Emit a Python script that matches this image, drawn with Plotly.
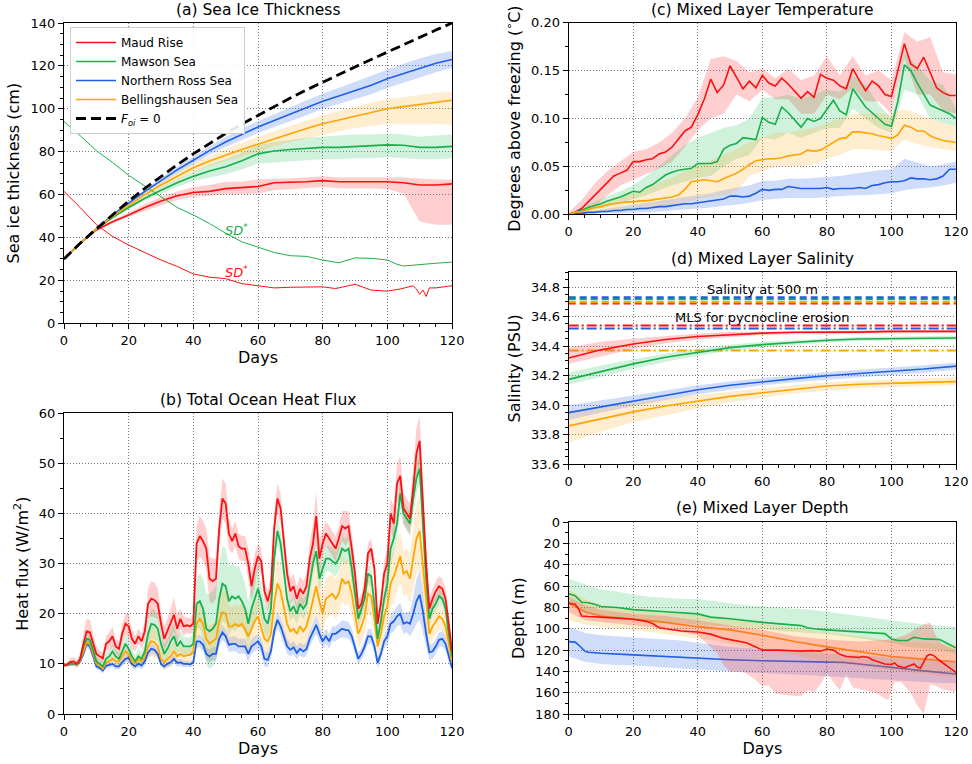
import numpy as np
import plotly.graph_objects as go

# ---------------- colours ----------------
RED, GREEN, BLUE, ORANGE = "#ff1010", "#19b04a", "#1f5fe6", "#ffa500"
FILL = {RED: "rgba(255,60,60,0.25)", GREEN: "rgba(40,190,90,0.22)",
        BLUE: "rgba(40,100,230,0.22)", ORANGE: "rgba(255,175,40,0.22)"}
NAMES = ["Maud Rise", "Mawson Sea", "Northern Ross Sea", "Bellingshausen Sea"]

# ---------------- (a) sea ice thickness (cm) ----------------
days_a = list(range(0, 121, 5))
foi0_a = [30, 37.3, 44, 50.7, 57, 62.9, 68.5, 73.9, 79, 83.9, 88.5, 92.9, 97, 101, 105,
          108.8, 112.5, 116, 119.5, 123, 126.5, 130, 133.3, 136.7, 140]
maud_a = [30, 37.2, 43.5, 47.3, 50.5, 54, 57, 59.5, 61, 61.5, 62.8, 63.2, 63.8, 65.5, 65.6,
          66, 66.5, 66, 66, 66, 66, 65.5, 64.5, 64.5, 65]
maud_a_hi = [30.2, 37.5, 44, 48, 51.5, 55.5, 59, 61.5, 63.5, 64.5, 66, 66, 67, 67.5, 67.5,
             68, 68.5, 68, 68, 68, 68, 68, 67.5, 67, 67]
maud_a_lo = [29.8, 36.9, 43, 46.6, 49.5, 52.5, 55, 57.5, 59, 59.5, 60, 60.3, 60.5, 62, 62.5,
             63, 63.5, 63, 63, 63, 62.5, 60.5, 47.5, 46, 46]
mawson_a = [30, 37.3, 44, 49.3, 54, 58.3, 62, 65.5, 68.5, 71, 73, 75.8, 79, 80.3, 81,
            81.5, 82, 82, 82.3, 82.8, 83.2, 83, 82, 82, 82.5]
mawson_a_hi = [30.2, 37.5, 44.3, 49.8, 54.8, 59.3, 63.5, 67.3, 70.7, 74, 76.5, 79.7, 83, 84.5,
               85.5, 86.5, 87, 87.5, 88, 88, 88.5, 88, 87, 87.5, 88]
mawson_a_lo = [29.8, 37.1, 43.7, 48.8, 53.2, 57.3, 60.5, 63.5, 66.2, 68, 69.5, 71.8, 74.5, 75,
               75.5, 76, 76.5, 76.5, 77, 77, 77.5, 77, 76.5, 76.5, 77]
ross_a = [30, 37.3, 44, 50.5, 56, 61.5, 66.5, 71.5, 76, 80.5, 84.5, 88, 91.5, 94.5, 97.5,
          100.5, 103.5, 106, 108.5, 111, 114, 116.5, 119, 121.2, 123]
ross_a_hi = [30.2, 37.6, 44.4, 51, 56.8, 62.5, 67.8, 73, 77.8, 82.5, 86.8, 90.5, 94.3, 97.5,
             100.8, 104, 107, 109.8, 112.5, 115.2, 118.3, 121, 123.5, 125.5, 127]
ross_a_lo = [29.8, 37, 43.6, 50, 55.2, 60.5, 65.2, 70, 74.2, 78.5, 82.2, 85.5, 88.7, 91.5,
             94.2, 97, 100, 102.2, 104.5, 106.8, 109.7, 112, 114.5, 117, 119]
bell_a = [30, 37.3, 44, 50, 55, 60, 64.5, 68.7, 72.5, 75.7, 78.5, 81, 83.5, 86, 88.5,
          90.8, 93, 94.8, 96.5, 98.2, 100, 101, 102, 103, 104]
bell_a_hi = [30.2, 37.6, 44.4, 50.6, 55.8, 61, 65.8, 70.3, 74.5, 78, 81.3, 84, 87, 89.5, 92,
             94.5, 97, 99, 101, 102.8, 104.5, 105.5, 106.5, 107.5, 108]
bell_a_lo = [29.8, 37, 43.6, 49.4, 54.2, 59, 63.2, 67, 70.5, 73.3, 75.7, 77.8, 80, 82.5, 84.5,
             86.2, 88, 89.5, 91, 92, 93, 93, 93, 93, 92.5]
# snow depth SD* curves
sd_mawson_days = [0, 5, 10, 15, 20, 25, 30, 35, 40, 45, 50, 55, 60, 65, 70, 75, 80, 85, 90,
                  95, 100, 103, 105, 110, 115, 120]
sd_mawson = [94, 87.5, 80.5, 75, 69, 64, 59, 54, 50.5, 46.5, 42, 38, 35.5, 33, 31.5, 31.2,
             29.5, 28.2, 30.5, 30.3, 29.5, 27.5, 26.7, 27.5, 28, 28.5]
sd_maud_days = [0, 5, 10, 15, 20, 25, 30, 35, 40, 45, 50, 55, 60, 65, 70, 75, 80, 84, 86, 88,
                90, 95, 100, 104, 108, 109, 110, 111, 112, 113, 115, 120]
sd_maud = [61.5, 54, 46, 40.5, 36.5, 33, 29.5, 26.5, 23, 21.5, 20.8, 18.5, 17.6, 16.5, 16.8,
           17, 17, 16.2, 17, 17.5, 18.2, 15.5, 15, 16, 17.5, 16, 13.5, 15.5, 12.5, 16.5, 16.5, 17.5]

# ---------------- (b) total ocean heat flux (W/m2), daily ----------------
days_b = list(range(0, 121))
maud_b = [9.7, 9.9, 10.4, 10.5, 10.0, 11.0, 14.0, 16.5, 16.3, 14.0,
          12.0, 11.5, 11.1, 14.0, 14.5, 15.5, 13.5, 13.0, 16.0, 18.0,
          17.5, 15.0, 14.0, 15.5, 14.5, 16.5, 22.0, 23.0, 22.7, 22.0,
          18.0, 15.0, 16.5, 18.0, 19.8, 17.0, 19.0, 17.5, 17.7, 17.5,
          18.0, 34.0, 35.5, 34.5, 33.0, 27.0, 26.5, 27.0, 37.0, 43.0,
          42.0, 36.0, 34.5, 36.0, 33.5, 33.0, 33.0, 30.0, 25.5, 29.0,
          31.5, 30.5, 24.5, 22.5, 25.0, 37.0, 43.0, 41.0, 34.0, 28.0,
          24.5, 25.5, 23.0, 25.0, 24.0, 25.5, 31.0, 34.0, 39.5, 31.0,
          34.0, 36.0, 35.0, 34.0, 33.0, 35.0, 37.5, 37.0, 37.5, 33.0,
          28.0, 21.0, 22.0, 25.0, 32.0, 33.0, 29.0, 18.0, 22.0, 28.0,
          30.0, 40.0, 38.0, 46.0, 47.5, 41.0, 40.0, 39.0, 45.0, 52.0,
          54.5, 42.0, 30.0, 21.0, 23.0, 24.5, 25.5, 25.0, 23.0, 18.0, 12.5]
maud_b_sd = [0.4, 0.5, 0.7, 0.8, 0.8, 1.0, 2.0, 2.5, 2.5, 2.0,
             1.5, 1.2, 1.0, 1.5, 1.8, 2.0, 1.5, 1.5, 1.8, 2.0,
             2.5, 2.0, 1.5, 1.5, 1.5, 2.0, 3.0, 3.5, 3.5, 3.0,
             2.5, 2.5, 2.5, 3.0, 3.5, 3.0, 2.0, 2.0, 1.5, 1.5,
             2.0, 3.5, 4.0, 4.0, 4.0, 4.5, 4.5, 4.0, 3.5, 4.0,
             4.0, 3.0, 2.5, 2.5, 2.5, 2.5, 2.5, 3.0, 3.0, 3.0,
             2.5, 2.5, 2.0, 2.0, 2.5, 3.0, 3.0, 3.0, 2.5, 2.5,
             2.5, 2.5, 2.5, 2.5, 2.5, 2.5, 3.0, 4.0, 5.0, 4.0,
             2.5, 2.5, 2.5, 2.5, 2.5, 2.5, 3.0, 3.5, 3.0, 3.0,
             2.5, 2.0, 2.0, 2.0, 2.0, 2.0, 2.0, 2.0, 2.0, 2.5,
             3.0, 3.0, 3.5, 4.0, 4.0, 3.0, 3.0, 3.0, 4.0, 5.0,
             5.0, 4.0, 3.0, 2.0, 2.0, 2.0, 2.0, 2.0, 2.0, 1.5, 1.0]
mawson_b = [9.7, 9.8, 10.2, 10.0, 10.0, 11.0, 13.5, 15.0, 14.8, 12.5,
            10.5, 10.0, 9.5, 11.0, 11.5, 12.5, 11.5, 11.0, 12.5, 14.0,
            13.0, 11.5, 10.5, 11.5, 11.0, 12.5, 16.0, 18.0, 17.8, 17.0,
            14.0, 12.0, 13.0, 14.5, 15.5, 13.5, 14.5, 13.5, 13.5, 13.5,
            14.0, 22.0, 22.5, 21.0, 17.0, 16.5, 17.0, 18.0, 23.0, 26.0,
            25.5, 22.5, 23.5, 23.0, 23.5, 22.5, 21.0, 18.0, 21.0, 23.0,
            25.0, 22.5, 19.0, 18.0, 21.0, 31.0, 36.5, 34.0, 29.0, 23.0,
            20.5, 21.5, 20.0, 22.0, 21.0, 22.0, 26.0, 30.0, 32.5, 27.0,
            29.0, 31.0, 31.0, 30.5, 30.0, 31.0, 33.0, 32.5, 33.0, 29.0,
            24.0, 19.0, 21.0, 23.0, 28.0, 27.5, 22.0, 15.0, 18.5, 23.0,
            26.0, 33.0, 35.0, 38.0, 44.0, 40.0, 39.0, 38.0, 43.0, 47.0,
            49.0, 38.0, 27.0, 19.0, 21.0, 22.0, 23.5, 23.0, 21.0, 16.0, 11.5]
mawson_b_sd = [0.3, 0.3, 0.4, 0.4, 0.5, 0.6, 1.0, 1.2, 1.2, 1.0,
               1.0, 1.0, 1.0, 1.2, 1.2, 1.5, 1.2, 1.2, 1.5, 2.0,
               2.0, 1.5, 1.2, 1.5, 1.5, 2.0, 3.0, 3.0, 3.0, 2.5,
               2.0, 2.0, 2.0, 2.5, 2.5, 2.0, 2.0, 1.8, 1.8, 1.8,
               2.0, 5.0, 5.5, 6.0, 7.0, 7.5, 7.5, 7.5, 7.0, 7.5,
               7.5, 7.0, 6.5, 6.5, 6.0, 5.5, 5.0, 4.5, 4.5, 4.5,
               4.5, 3.5, 3.0, 3.0, 3.0, 3.0, 2.5, 2.5, 2.5, 2.0,
               2.0, 2.0, 2.0, 2.0, 2.0, 2.0, 2.5, 2.5, 2.5, 2.5,
               2.5, 2.5, 2.5, 2.5, 2.5, 2.5, 2.5, 2.5, 2.5, 2.5,
               2.0, 1.8, 1.8, 2.0, 2.0, 2.0, 2.0, 1.5, 1.5, 2.0,
               2.5, 3.0, 3.0, 3.0, 3.0, 2.5, 2.5, 2.5, 3.0, 3.0,
               3.0, 3.0, 2.5, 1.5, 1.5, 1.5, 1.5, 1.5, 1.5, 1.5, 1.0]
ross_b = [9.7, 9.8, 10.0, 10.0, 9.9, 10.5, 12.0, 14.0, 13.5, 11.5,
          9.5, 9.2, 8.7, 9.6, 9.8, 10.0, 9.5, 9.5, 10.3, 11.0,
          11.2, 10.0, 9.5, 10.0, 9.7, 10.5, 12.3, 13.0, 12.8, 12.0,
          10.0, 9.5, 10.0, 10.3, 11.0, 10.2, 10.3, 10.0, 10.0, 9.9,
          10.3, 14.5, 14.5, 13.8, 12.0, 11.5, 12.0, 12.0, 15.0, 16.3,
          15.5, 13.8, 14.0, 14.0, 13.5, 13.5, 13.5, 12.0, 13.5, 14.0,
          14.5, 13.5, 11.0, 10.8, 12.5, 16.5, 18.8, 17.5, 15.5, 13.5,
          12.8, 13.3, 12.2, 13.0, 12.5, 13.0, 15.0, 16.5, 17.8, 16.0,
          14.5, 15.5, 14.5, 16.0, 16.0, 16.5, 17.0, 16.8, 16.7, 15.5,
          13.0, 11.0, 12.0, 13.5, 15.5, 15.5, 13.5, 10.2, 12.0, 14.5,
          15.5, 18.0, 18.5, 19.5, 20.0, 18.0, 18.3, 18.0, 20.0, 22.5,
          23.8, 20.5, 16.0, 12.3, 12.5, 13.5, 14.8, 15.0, 14.0, 11.5, 9.2]
ross_b_sd = [0.2, 0.2, 0.3, 0.3, 0.3, 0.4, 0.6, 0.8, 0.8, 0.6,
             0.5, 0.5, 0.5, 0.5, 0.6, 0.6, 0.6, 0.6, 0.7, 0.8,
             0.8, 0.7, 0.6, 0.7, 0.7, 0.8, 1.0, 1.0, 1.0, 0.8,
             0.6, 0.6, 0.7, 0.8, 0.8, 0.7, 0.7, 0.7, 0.6, 0.6,
             0.7, 1.2, 1.3, 1.3, 1.3, 1.3, 1.3, 1.3, 1.5, 1.5,
             1.5, 1.5, 1.5, 1.5, 1.5, 1.5, 1.5, 1.5, 1.5, 1.5,
             1.5, 1.5, 1.5, 1.5, 1.5, 1.5, 1.7, 1.7, 1.5, 1.5,
             1.3, 1.3, 1.3, 1.3, 1.3, 1.3, 1.5, 1.7, 1.8, 1.7,
             1.5, 1.5, 1.5, 1.5, 1.5, 1.5, 1.7, 1.7, 1.7, 1.5,
             1.3, 1.2, 1.2, 1.3, 1.5, 1.5, 1.3, 1.0, 1.2, 1.4,
             1.6, 2.0, 2.0, 2.0, 2.2, 2.0, 2.0, 2.5, 3.5, 4.5,
             5.0, 4.0, 2.5, 1.5, 1.5, 1.5, 1.5, 1.5, 1.5, 1.2, 1.0]
bell_b = [9.7, 9.8, 10.1, 10.0, 9.9, 10.7, 12.5, 14.3, 14.0, 12.0,
          10.0, 9.8, 9.0, 10.3, 10.5, 11.0, 10.5, 10.5, 11.5, 12.5,
          12.0, 10.5, 10.0, 11.0, 10.5, 11.5, 13.5, 14.5, 14.3, 13.5,
          11.0, 10.3, 11.0, 11.5, 12.5, 11.5, 12.0, 11.5, 11.7, 11.8,
          12.5, 18.0, 19.0, 18.0, 15.0, 14.0, 14.5, 15.0, 18.5, 20.3,
          20.0, 17.5, 17.5, 18.0, 17.5, 18.0, 17.0, 15.5, 17.0, 18.5,
          19.5, 17.0, 15.0, 14.5, 16.0, 22.0, 26.0, 24.5, 21.0, 18.0,
          16.5, 17.0, 16.0, 17.5, 16.5, 17.5, 20.0, 23.0, 25.5, 22.5,
          20.0, 23.0, 23.5, 24.0, 23.0, 24.0, 27.0, 26.0, 26.5, 24.0,
          20.0, 16.0, 17.5, 19.5, 24.0, 23.5, 19.0, 13.5, 16.0, 19.5,
          21.5, 26.0, 27.5, 29.5, 31.5, 28.0, 28.5, 27.0, 31.0, 35.0,
          36.5, 30.0, 22.0, 16.0, 17.5, 18.5, 19.5, 19.0, 17.5, 14.0, 10.5]
bell_b_sd = [0.3, 0.3, 0.3, 0.4, 0.4, 0.5, 0.8, 1.0, 1.0, 0.8,
             0.8, 0.8, 0.8, 0.8, 0.8, 1.0, 1.0, 1.0, 1.2, 1.5,
             1.5, 1.2, 1.0, 1.2, 1.2, 1.5, 2.5, 3.0, 3.0, 2.5,
             1.5, 1.5, 1.5, 2.0, 2.0, 1.5, 1.5, 1.5, 1.5, 1.5,
             1.5, 3.0, 3.5, 3.5, 3.5, 3.5, 3.5, 3.5, 4.0, 4.5,
             4.5, 4.0, 4.0, 4.0, 4.0, 4.0, 4.0, 3.5, 3.5, 3.5,
             3.5, 3.0, 3.0, 3.0, 3.5, 4.5, 5.5, 5.5, 5.0, 4.0,
             3.5, 3.5, 3.5, 3.5, 3.5, 3.5, 4.0, 5.0, 6.0, 5.0,
             4.0, 4.0, 4.0, 4.0, 4.0, 4.0, 4.5, 4.5, 4.5, 4.0,
             3.5, 3.0, 3.0, 3.5, 4.0, 4.0, 3.5, 2.5, 3.0, 3.5,
             4.0, 5.0, 5.0, 5.0, 5.0, 4.5, 4.5, 5.0, 6.0, 7.0,
             7.5, 6.5, 4.5, 3.0, 2.5, 2.5, 2.5, 2.5, 2.5, 2.0, 1.5]

# ---------------- (c) mixed layer temperature (deg C above freezing) ----------------
days_c = list(range(0, 121, 2))
maud_c = [0.000, 0.002, 0.006, 0.013, 0.020, 0.027, 0.033, 0.040, 0.043, 0.046, 0.055,
          0.055, 0.057, 0.058, 0.063, 0.065, 0.070, 0.078, 0.087, 0.091, 0.104, 0.120,
          0.141, 0.127, 0.135, 0.155, 0.143, 0.131, 0.139, 0.132, 0.145, 0.137, 0.134,
          0.142, 0.136, 0.129, 0.121, 0.128, 0.122, 0.146, 0.142, 0.140, 0.134, 0.131,
          0.152, 0.140, 0.129, 0.139, 0.134, 0.125, 0.123, 0.150, 0.178, 0.157, 0.152,
          0.164, 0.148, 0.132, 0.127, 0.124, 0.124]
mawson_c = [0.000, 0.002, 0.004, 0.007, 0.009, 0.011, 0.014, 0.016, 0.018, 0.021, 0.024,
            0.023, 0.028, 0.031, 0.036, 0.041, 0.044, 0.046, 0.047, 0.048, 0.053, 0.053,
            0.053, 0.055, 0.068, 0.072, 0.074, 0.080, 0.079, 0.078, 0.101, 0.096, 0.094,
            0.112, 0.106, 0.098, 0.091, 0.100, 0.097, 0.100, 0.110, 0.119, 0.108, 0.104,
            0.131, 0.122, 0.112, 0.106, 0.100, 0.094, 0.092, 0.118, 0.156, 0.150, 0.137,
            0.126, 0.114, 0.111, 0.108, 0.105, 0.100]
ross_c = [0.000, 0.001, 0.001, 0.002, 0.002, 0.003, 0.003, 0.004, 0.004, 0.005, 0.005,
          0.006, 0.006, 0.007, 0.008, 0.008, 0.009, 0.010, 0.011, 0.011, 0.012, 0.013,
          0.014, 0.015, 0.016, 0.019, 0.019, 0.018, 0.019, 0.022, 0.026, 0.025, 0.026,
          0.026, 0.029, 0.028, 0.027, 0.027, 0.027, 0.027, 0.028, 0.026, 0.027, 0.027,
          0.027, 0.028, 0.027, 0.030, 0.031, 0.033, 0.034, 0.034, 0.035, 0.038, 0.037,
          0.037, 0.036, 0.037, 0.040, 0.047, 0.047]
bell_c = [0.000, 0.002, 0.003, 0.005, 0.007, 0.008, 0.010, 0.011, 0.012, 0.013, 0.013,
          0.014, 0.014, 0.015, 0.016, 0.017, 0.018, 0.020, 0.026, 0.034, 0.035, 0.036,
          0.035, 0.034, 0.037, 0.040, 0.043, 0.047, 0.052, 0.056, 0.057, 0.058, 0.058,
          0.059, 0.061, 0.062, 0.063, 0.067, 0.066, 0.067, 0.071, 0.075, 0.079, 0.080,
          0.086, 0.086, 0.085, 0.084, 0.082, 0.081, 0.079, 0.083, 0.093, 0.091, 0.087,
          0.087, 0.082, 0.079, 0.077, 0.076, 0.075]
band_days_c = list(range(0, 121, 4))
maud_c_hi = [0.002, 0.015, 0.032, 0.045, 0.055, 0.065, 0.068, 0.075, 0.085, 0.100, 0.122,
             0.162, 0.165, 0.160, 0.148, 0.152, 0.142, 0.152, 0.140, 0.145, 0.165, 0.145,
             0.165, 0.145, 0.150, 0.140, 0.190, 0.180, 0.185, 0.148, 0.146]
maud_c_lo = [0.000, 0.001, 0.008, 0.020, 0.030, 0.036, 0.042, 0.048, 0.055, 0.070, 0.088,
             0.100, 0.105, 0.125, 0.118, 0.130, 0.120, 0.120, 0.105, 0.105, 0.125, 0.120,
             0.132, 0.118, 0.118, 0.105, 0.163, 0.125, 0.125, 0.108, 0.105]
mawson_c_hi = [0.000, 0.006, 0.013, 0.019, 0.024, 0.030, 0.040, 0.050, 0.062, 0.072, 0.080,
               0.085, 0.090, 0.093, 0.100, 0.122, 0.122, 0.125, 0.120, 0.125, 0.130, 0.128,
               0.145, 0.135, 0.115, 0.100, 0.168, 0.155, 0.140, 0.135, 0.110]
mawson_c_lo = [0.000, 0.002, 0.005, 0.008, 0.012, 0.016, 0.020, 0.025, 0.030, 0.034, 0.038,
               0.040, 0.050, 0.058, 0.062, 0.080, 0.078, 0.085, 0.080, 0.085, 0.090, 0.090,
               0.110, 0.100, 0.090, 0.085, 0.130, 0.125, 0.100, 0.095, 0.092]
ross_c_hi = [0.000, 0.002, 0.004, 0.006, 0.008, 0.010, 0.012, 0.014, 0.016, 0.018, 0.020,
             0.022, 0.025, 0.028, 0.030, 0.035, 0.035, 0.037, 0.037, 0.038, 0.039, 0.040,
             0.042, 0.044, 0.046, 0.047, 0.058, 0.054, 0.050, 0.052, 0.055]
ross_c_lo = [0.000, 0.000, 0.001, 0.001, 0.001, 0.002, 0.002, 0.003, 0.004, 0.005, 0.006,
             0.007, 0.009, 0.010, 0.012, 0.015, 0.016, 0.017, 0.017, 0.017, 0.018, 0.019,
             0.020, 0.020, 0.021, 0.022, 0.025, 0.027, 0.028, 0.030, 0.033]
bell_c_hi = [0.000, 0.005, 0.010, 0.014, 0.018, 0.022, 0.027, 0.033, 0.038, 0.045, 0.052,
             0.056, 0.062, 0.068, 0.075, 0.080, 0.085, 0.085, 0.088, 0.090, 0.095, 0.100,
             0.105, 0.105, 0.105, 0.105, 0.110, 0.105, 0.100, 0.095, 0.092]
bell_c_lo = [0.000, 0.001, 0.002, 0.003, 0.004, 0.005, 0.006, 0.007, 0.009, 0.012, 0.016,
             0.018, 0.020, 0.024, 0.040, 0.045, 0.050, 0.050, 0.050, 0.052, 0.058, 0.062,
             0.068, 0.068, 0.067, 0.066, 0.078, 0.073, 0.070, 0.068, 0.066]

# ---------------- (d) mixed layer salinity (PSU) ----------------
days_d = list(range(0, 121, 10))
maud_d = [34.32, 34.375, 34.415, 34.445, 34.465, 34.478, 34.488, 34.494, 34.492, 34.495, 34.5, 34.5, 34.5]
maud_d_hi = [34.39, 34.43, 34.45, 34.47, 34.485, 34.495, 34.5, 34.505, 34.505, 34.508, 34.51, 34.51, 34.51]
maud_d_lo = [34.28, 34.33, 34.38, 34.42, 34.445, 34.46, 34.475, 34.483, 34.48, 34.485, 34.49, 34.49, 34.49]
mawson_d = [34.175, 34.23, 34.28, 34.325, 34.36, 34.39, 34.41, 34.425, 34.44, 34.448, 34.452, 34.455, 34.455]
mawson_d_hi = [34.22, 34.27, 34.31, 34.35, 34.38, 34.41, 34.43, 34.44, 34.455, 34.462, 34.466, 34.47, 34.47]
mawson_d_lo = [34.14, 34.19, 34.245, 34.295, 34.335, 34.37, 34.39, 34.41, 34.425, 34.434, 34.438, 34.44, 34.44]
ross_d = [33.95, 33.99, 34.03, 34.07, 34.105, 34.135, 34.16, 34.18, 34.2, 34.215, 34.23, 34.245, 34.265]
ross_d_hi = [34.0, 34.03, 34.065, 34.1, 34.135, 34.16, 34.185, 34.205, 34.225, 34.24, 34.255, 34.27, 34.29]
ross_d_lo = [33.9, 33.95, 33.995, 34.035, 34.075, 34.105, 34.135, 34.155, 34.175, 34.19, 34.205, 34.22, 34.24]
bell_d = [33.86, 33.91, 33.955, 33.995, 34.03, 34.06, 34.085, 34.11, 34.13, 34.142, 34.15, 34.155, 34.16]
bell_d_hi = [33.96, 33.99, 34.02, 34.045, 34.07, 34.095, 34.115, 34.135, 34.155, 34.165, 34.175, 34.18, 34.19]
bell_d_lo = [33.75, 33.82, 33.885, 33.935, 33.98, 34.02, 34.05, 34.08, 34.1, 34.115, 34.125, 34.13, 34.135]
# reference salinities: at 500 m and MLS needed for pycnocline erosion
sal500 = {RED: 34.689, ORANGE: 34.698, GREEN: 34.719, BLUE: 34.730}
mls_erosion = {ORANGE: 34.371, BLUE: 34.520, RED: 34.540}

# ---------------- (e) mixed layer depth (m) ----------------
maud_e_days = [0, 2, 3, 4, 6, 10, 20, 24, 26, 28, 30, 35, 40, 44, 48, 52, 55, 58, 60, 65, 70,
               72, 75, 78, 80, 82, 84, 86, 90, 91, 93, 94, 98, 100, 101, 102, 104, 106, 107,
               108, 109, 110, 111, 112, 113, 115, 118, 120]
maud_e = [76, 77, 81, 88, 88.5, 89, 91, 93, 95, 99, 100, 102, 103, 105, 109, 111, 113, 117,
          120, 120, 120.5, 121, 120.5, 121, 119, 120, 124, 126, 127, 126, 127, 129, 133,
          133.5, 132, 135, 136.5, 134.5, 133, 136, 137, 131, 125.5, 124, 125, 130, 137, 141]
maud_e_hi_days = [0, 5, 10, 20, 30, 40, 50, 60, 70, 80, 90, 100, 104, 106, 108, 110, 112, 114, 116, 120]
maud_e_hi = [70, 78, 82, 86, 88, 92, 97, 101, 107, 110, 112, 110, 106, 103, 99, 96, 94, 108, 115, 120]
maud_e_lo_days = [0, 5, 10, 20, 30, 40, 42, 46, 48, 50, 54, 58, 60, 62, 64, 66, 70, 72, 74, 76,
                  78, 80, 82, 84, 86, 88, 90, 92, 95, 99, 101, 103, 106, 108, 110, 112, 114, 116, 120]
maud_e_lo = [84, 92, 94, 97, 100, 106, 112, 123, 134, 140, 140, 148, 154, 153, 161, 162, 163,
             163, 158, 160, 152, 142, 150, 158, 143, 155, 157, 158, 160, 167, 150, 150, 160,
             172, 180, 152, 154, 157, 159]
mawson_e_days = [0, 2, 4, 6, 8, 10, 15, 20, 30, 40, 44, 50, 60, 70, 72, 74, 76, 80, 90, 98,
                 100, 102, 105, 107, 110, 115, 120]
mawson_e = [67, 69, 75, 75.5, 77, 79, 80, 82, 84, 86, 89, 90.5, 94, 96, 97, 99, 100, 101, 103,
            104.5, 109.5, 111, 111, 108, 109.5, 110, 118]
ross_e_days = [0, 2, 3, 4, 5, 6, 10, 20, 30, 40, 50, 60, 70, 80, 85, 90, 100, 110, 120]
ross_e = [112, 112.5, 115, 118, 121, 122, 123, 124.5, 126, 128, 129, 130, 130.5, 131, 131.5,
          133, 136.5, 139.5, 142.5]
bell_e_days = [0, 2, 5, 10, 20, 30, 40, 50, 60, 70, 80, 90, 100, 110, 120]
bell_e = [76, 79, 84, 88, 91, 94, 98, 101, 106, 112, 117, 121.5, 126, 128.5, 131]
band_days_e = list(range(0, 121, 5))
mawson_e_hi = [53, 58, 63, 65, 68, 70, 71, 72, 72, 74, 76, 78, 79, 80, 81, 82, 84, 86, 88, 90,
               92, 94, 96, 97, 98]
mawson_e_lo = [77, 85, 88, 90, 92, 93, 94, 95, 96, 97, 98, 99, 100, 102, 103, 104, 105, 107,
               109, 111, 113, 117, 118, 120, 124]
bell_e_hi = [63, 72, 78, 80, 82, 84, 85, 86, 87, 89, 91, 93, 95, 97, 99, 101, 103, 105, 107,
             109, 111, 112, 113, 114, 115]
bell_e_lo = [92, 96, 98, 100, 101, 103, 105, 107, 109, 111, 114, 117, 119, 122, 125, 128, 131,
             133, 135, 137, 139, 141, 142, 144, 145]
ross_e_hi = [98, 104, 106, 107, 108, 109, 110, 111, 113, 115, 117, 118, 119, 120, 121, 122,
             123, 124, 125, 126, 127, 128, 129, 130, 131]
ross_e_lo = [126, 131, 133, 134, 134.5, 135, 136, 137, 138, 139, 140, 141, 141.5, 142, 143,
             143.5, 144, 145, 146, 147, 148, 149, 150, 151, 151]

# ---------------- figure ----------------
W, H = 972, 764
FONT = "DejaVu Sans"
fig = go.Figure()


def px_x(x0, x1):
    return [x0 / W, x1 / W]


def px_y(top, bottom):
    return [1 - bottom / H, 1 - top / H]


def band(xa, ya, x_hi, hi, x_lo, lo, color):
    fig.add_trace(go.Scatter(
        x=list(x_hi) + list(x_lo)[::-1], y=list(hi) + list(lo)[::-1],
        fill="toself", fillcolor=FILL[color], line=dict(width=0),
        mode="lines", hoverinfo="skip", showlegend=False, xaxis=xa, yaxis=ya))


def line(xa, ya, x, y, color, width=1.6, name=None, legend=False, dash=None):
    fig.add_trace(go.Scatter(
        x=x, y=y, mode="lines", name=name, showlegend=legend,
        line=dict(color=color, width=width, dash=dash), xaxis=xa, yaxis=ya))


# (a)
series_a = [(maud_a, maud_a_hi, maud_a_lo, RED), (mawson_a, mawson_a_hi, mawson_a_lo, GREEN),
            (ross_a, ross_a_hi, ross_a_lo, BLUE), (bell_a, bell_a_hi, bell_a_lo, ORANGE)]
for m, hi, lo, c in series_a:
    band("x", "y", days_a, hi, days_a, lo, c)
for (m, hi, lo, c), name in zip(series_a, NAMES):
    line("x", "y", days_a, m, c, 1.6, name, True)
line("x", "y", sd_mawson_days, sd_mawson, GREEN, 1.0)
line("x", "y", sd_maud_days, sd_maud, RED, 1.0)
fig.add_trace(go.Scatter(x=days_a, y=foi0_a, mode="lines", name="<i>F<sub>oi</sub></i> = 0",
                         line=dict(color="black", width=2.8, dash="10px,5px"),
                         xaxis="x", yaxis="y"))

# (b)
series_b = [(maud_b, maud_b_sd, RED), (mawson_b, mawson_b_sd, GREEN),
            (ross_b, ross_b_sd, BLUE), (bell_b, bell_b_sd, ORANGE)]
for m, sd, c in series_b:
    mv, sv = np.array(m), np.array(sd)
    band("x2", "y2", days_b, mv + sv, days_b, mv - sv, c)
for m, sd, c in [series_b[2], series_b[3], series_b[1], series_b[0]]:
    line("x2", "y2", days_b, m, c, 1.8)

# (c)
series_c = [(maud_c, maud_c_hi, maud_c_lo, RED), (mawson_c, mawson_c_hi, mawson_c_lo, GREEN),
            (ross_c, ross_c_hi, ross_c_lo, BLUE), (bell_c, bell_c_hi, bell_c_lo, ORANGE)]
for m, hi, lo, c in series_c:
    band("x3", "y3", band_days_c, hi, band_days_c, lo, c)
for m, hi, lo, c in series_c:
    line("x3", "y3", days_c, m, c, 1.6)

# (d)
for lvl_color, lvl in sal500.items():
    line("x4", "y4", [0, 120], [lvl, lvl], lvl_color, 2.2, dash="7px,4px")
for lvl_color, lvl in mls_erosion.items():
    line("x4", "y4", [0, 120], [lvl, lvl], lvl_color, 2.0, dash="10px,3px,2px,3px")
series_d = [(maud_d, maud_d_hi, maud_d_lo, RED), (mawson_d, mawson_d_hi, mawson_d_lo, GREEN),
            (ross_d, ross_d_hi, ross_d_lo, BLUE), (bell_d, bell_d_hi, bell_d_lo, ORANGE)]
for m, hi, lo, c in series_d:
    band("x4", "y4", days_d, hi, days_d, lo, c)
for m, hi, lo, c in series_d:
    line("x4", "y4", days_d, m, c, 1.6)

# (e)
line("x5", "y5", ross_e_days, ross_e, BLUE, 1.6)
line("x5", "y5", bell_e_days, bell_e, "#ff8c00", 1.6)
band("x5", "y5", band_days_e, ross_e_hi, band_days_e, ross_e_lo, BLUE)
band("x5", "y5", band_days_e, mawson_e_hi, band_days_e, mawson_e_lo, GREEN)
band("x5", "y5", band_days_e, bell_e_hi, band_days_e, bell_e_lo, ORANGE)
band("x5", "y5", maud_e_hi_days, maud_e_hi, maud_e_lo_days, maud_e_lo, RED)
line("x5", "y5", mawson_e_days, mawson_e, GREEN, 1.6)
line("x5", "y5", maud_e_days, maud_e, RED, 1.6)

# ---------------- axes ----------------
domains = {
    "a": (px_x(64, 452), px_y(23, 323.3)),
    "b": (px_x(64, 452), px_y(413.3, 714)),
    "c": (px_x(568.7, 956), px_y(22.7, 214.3)),
    "d": (px_x(568.7, 956), px_y(272.3, 464.3)),
    "e": (px_x(568.7, 956), px_y(522.3, 714)),
}
tickfont = dict(family=FONT, size=13, color="black")
titlefont = dict(family=FONT, size=16, color="black")
common = dict(showline=True, linecolor="black", linewidth=1.3, mirror=True, automargin=False,
              ticks="outside", ticklen=5, tickwidth=1.1, tickcolor="black",
              showgrid=True, gridcolor="#777", griddash="1px,2px", gridwidth=1,
              zeroline=False, tickfont=tickfont)


def xaxis(key, anchor, title=None):
    return dict(common, domain=domains[key][0], anchor=anchor, range=[0, 120], dtick=20,
                minor=dict(dtick=5, ticks="outside", ticklen=3, tickcolor="black", showgrid=False),
                title=dict(text=title, font=titlefont, standoff=4) if title else None)


def yaxis(key, anchor, rng, dtick, mdtick, title, fmt=None):
    d = dict(common, domain=domains[key][1], anchor=anchor, range=rng, dtick=dtick,
             minor=dict(dtick=mdtick, ticks="outside", ticklen=3, tickcolor="black", showgrid=False),
             title=dict(text=title, font=titlefont, standoff=6))
    if fmt:
        d["tickformat"] = fmt
    return d


fig.update_layout(
    width=W, height=H, margin=dict(l=0, r=0, t=0, b=0),
    paper_bgcolor="white", plot_bgcolor="white",
    font=dict(family=FONT, color="black"),
    xaxis=xaxis("a", "y", "Days"),
    yaxis=yaxis("a", "x", [0, 140], 20, 5, "Sea ice thickness (cm)"),
    xaxis2=xaxis("b", "y2", "Days"),
    yaxis2=yaxis("b", "x2", [0, 60], 10, 5, "Heat flux (W/m<sup>2</sup>)"),
    xaxis3=xaxis("c", "y3"),
    yaxis3=yaxis("c", "x3", [0, 0.2], 0.05, 0.025, "Degrees above freezing (<sup>∘</sup>C)", ".2f"),
    xaxis4=xaxis("d", "y4"),
    yaxis4=yaxis("d", "x4", [33.6, 34.9], 0.2, 0.05, "Salinity (PSU)", ".1f"),
    xaxis5=xaxis("e", "y5", "Days"),
    yaxis5=yaxis("e", "x5", [180, 0], 20, 10, "Depth (m)"),
    legend=dict(x=70 / W, y=1 - 27 / H, xanchor="left", yanchor="top",
                bgcolor="rgba(255,255,255,0.9)", bordercolor="#cccccc", borderwidth=1,
                font=dict(family=FONT, size=12, color="black"),
                tracegroupgap=0, itemwidth=40),
)

# panel titles
titles = [("(a) Sea Ice Thickness", 258, 10), ("(b) Total Ocean Heat Flux", 258, 400),
          ("(c) Mixed Layer Temperature", 762, 10), ("(d) Mixed Layer Salinity", 762, 259),
          ("(e) Mixed Layer Depth", 762, 508)]
for text, cx, cy in titles:
    fig.add_annotation(text=text, x=cx / W, y=1 - cy / H, xref="paper", yref="paper",
                       showarrow=False, xanchor="center", yanchor="middle",
                       font=dict(family=FONT, size=15.5, color="black"))

# in-panel labels
fig.add_annotation(text="<i>SD</i><sup>*</sup>", x=53.5, y=43.5, xref="x", yref="y",
                   showarrow=False, font=dict(family=FONT, size=13, color=GREEN))
fig.add_annotation(text="<i>SD</i><sup>*</sup>", x=53.5, y=24, xref="x", yref="y",
                   showarrow=False, font=dict(family=FONT, size=13, color=RED))
fig.add_annotation(text="Salinity at 500 m", x=60, y=34.786, xref="x4", yref="y4",
                   showarrow=False, font=dict(family=FONT, size=13, color="black"))
fig.add_annotation(text="MLS for pycnocline erosion", x=60, y=34.597, xref="x4", yref="y4",
                   showarrow=False, font=dict(family=FONT, size=13, color="black"))

fig.write_html("out.html")
